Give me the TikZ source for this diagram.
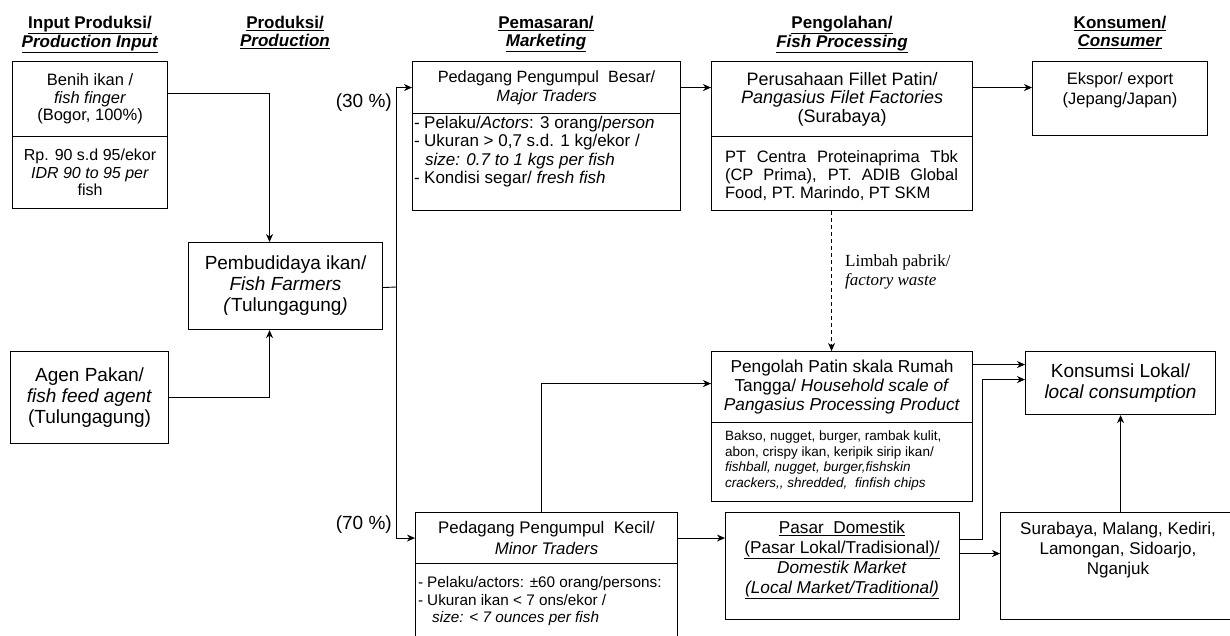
\documentclass[tikz,border=0pt]{standalone}
\usepackage{fontspec}
\setmainfont{Liberation Sans}
\newfontfamily\seriffam{Liberation Serif}
\usetikzlibrary{arrows.meta,calc}
\begin{document}
\begin{tikzpicture}[x=1pt,y=-1pt,
  box/.style={draw, line width=1.1pt, inner sep=1pt, align=center, anchor=north west,
    font=\fontsize{16.5}{18}\selectfont},
  txt/.style={inner sep=0pt, align=center, font=\fontsize{16.5}{18}\selectfont},
  lst/.style={inner sep=0pt, align=left, anchor=north west},
  small/.style={inner sep=0pt, align=left, anchor=north west, font=\fontsize{13.5}{15.5}\selectfont},
  hdr/.style={inner sep=0pt, align=center, anchor=north, font=\bfseries\fontsize{17}{17.8}\selectfont},
  arr/.style={line width=0.9pt, -{Stealth[length=8pt,width=7pt,inset=2.5pt]}},
  ln/.style={line width=0.9pt}
]
\useasboundingbox (0,0) rectangle (1230,635);
\clip (0,0) rectangle (1230,635);

% headers
\node[hdr] (h1) at (90,16) {\underline{Input Produksi/}\\\underline{\textit{Production Input}}};
\node[hdr] (h2) at (285,16) {\underline{Produksi/}\\\underline{\textit{Production}}};
\node[hdr] (h3) at (546,16) {\underline{Pemasaran/}\\\underline{\textit{Marketing}}};
\node[hdr] (h4) at (842,16) {\underline{Pengolahan/}\\\underline{\textit{Fish Processing}}};
\node[hdr] (h5) at (1120,16) {\underline{Konsumen/}\\\underline{\textit{Consumer}}};

% input column
\node[box, minimum width=155pt, minimum height=75pt, font=\fontsize{16.5}{17.5}\selectfont] (benih) at (12,61)
  {Benih ikan /\\\textit{fish finger}\\(Bogor, 100\%)};
\node[box, minimum width=155pt, minimum height=72pt, font=\fontsize{16}{17.5}\selectfont] (benihL) at (12,136)
  {Rp. 90 s.d 95/ekor\\\textit{IDR 90 to 95 per}\\fish};
\node[box, minimum width=158pt, minimum height=92pt, font=\fontsize{19}{21}\selectfont] (agen) at (10,351)
  {Agen Pakan/\\\textit{fish feed agent}\\(Tulungagung)};

% production
\node[box, minimum width=194pt, minimum height=87pt, font=\fontsize{19}{21}\selectfont] (farm) at (188,242)
  {Pembudidaya ikan/\\\textit{Fish Farmers}\\\textit{(}Tulungagung\textit{)}};

% marketing
\node[box, minimum width=268pt, minimum height=52pt, font=\fontsize{16.3}{19}\selectfont] (major) at (412,61)
  {Pedagang Pengumpul\ \ Besar/\\\textit{Major Traders}};
\node[box, minimum width=268pt, minimum height=97pt] (majorL) at (412,113) {};
\node[lst, font=\fontsize{17}{18.4}\selectfont] (majorT) at (414,116)
  {\makebox[10pt][l]{-}Pelaku/\textit{Actors}: 3 orang/\textit{person}\\
   \makebox[10pt][l]{-}Ukuran > 0,7 s.d. 1 kg/ekor /\\
   \hspace*{11pt}\textit{size: 0.7 to 1 kgs per fish}\\
   \makebox[10pt][l]{-}Kondisi segar/ \textit{fresh fish}};

\node[box, minimum width=262pt, minimum height=51pt, font=\fontsize{16.8}{21}\selectfont] (minor) at (415,512)
  {Pedagang Pengumpul\ \ Kecil/\\\textit{Minor Traders}};
\node[box, minimum width=262pt, minimum height=90pt] (minorL) at (415,563) {};
\node[lst, font=\fontsize{15.3}{17.8}\selectfont] (minorT) at (418,576)
  {\makebox[9pt][l]{-}Pelaku/actors: \textpm60 orang/persons:\\
   \makebox[9pt][l]{-}Ukuran ikan < 7 ons/ekor /\\
   \hspace*{14pt}\textit{size: < 7 ounces per fish}};

% processing
\node[box, minimum width=261pt, minimum height=75pt, font=\fontsize{18}{18.5}\selectfont] (filet) at (711,61)
  {Perusahaan Fillet Patin/\\\textit{Pangasius Filet Factories}\\(Surabaya)};
\node[box, minimum width=261pt, minimum height=74pt] (filetL) at (711,136) {};
\node[txt, align=left] (filetT) at (841.5,176)
  {\makebox[233pt][s]{PT Centra Proteinaprima Tbk}\\
   \makebox[233pt][s]{(CP Prima), PT. ADIB Global}\\
   Food, PT. Marindo, PT SKM};

\node[box, minimum width=261pt, minimum height=71pt, font=\fontsize{17.3}{19}\selectfont] (house) at (711,351)
  {Pengolah Patin skala Rumah\\Tangga/ \textit{Household scale of}\\\textit{Pangasius Processing Product}};
\node[box, minimum width=261pt, minimum height=79pt] (houseL) at (711,422) {};
\node[small] (houseT) at (725,431)
  {Bakso, nugget, burger, rambak kulit,\\
   abon, crispy ikan, keripik sirip ikan/\\
   \textit{fishball, nugget, burger,fishskin}\\
   \textit{crackers,{}, shredded,\ \ finfish chips}};

\node[box, minimum width=234pt, minimum height=107pt] (pasar) at (725,512) {};
\node[txt, anchor=north, font=\fontsize{17.2}{20}\selectfont] (pasarT) at (842,521)
  {\underline{Pasar\ \ Domestik}\\\underline{(Pasar Lokal/Tradisional)/}\\\textit{Domestik Market}\\\underline{\textit{(Local Market/Traditional)}}};

% consumer
\node[box, minimum width=175pt, minimum height=74pt] (ekspor) at (1032,61) {};
\node[txt, anchor=north, font=\fontsize{16.5}{20}\selectfont] (eksporT) at (1120,72) {Ekspor/ export\\(Jepang/Japan)};

\node[box, minimum width=190pt, minimum height=63pt, font=\fontsize{19}{21}\selectfont] (lokal) at (1025,351)
  {Konsumsi Lokal/\\\textit{local consumption}};

\node[box, minimum width=240pt, minimum height=107pt] (kota) at (1000,512) {};
\node[txt, anchor=north, font=\fontsize{17}{20}\selectfont] (kotaT) at (1118,522) {Surabaya, Malang, Kediri,\\Lamongan, Sidoarjo,\\Nganjuk};

% labels
\node[txt, anchor=east, font=\fontsize{19}{21}\selectfont] (p30) at (392,103) {(30 \%)};
\node[txt, anchor=east, font=\fontsize{19}{21}\selectfont] (p70) at (392,525) {(70 \%)};
\node[inner sep=0pt, align=left, anchor=west, font=\seriffam\fontsize{17}{18.5}\selectfont] (waste) at (845,272)
  {Limbah pabrik/\\\textit{factory waste}};

% connectors
\draw[arr] ([yshift=5.5pt]benih.east) -| ([xshift=-16pt]farm.north);
\draw[arr] (agen.east) -| ([xshift=-16pt]farm.south);
\coordinate (split) at (396,287);
\draw[ln] ([yshift=-1.5pt]farm.east) -- (split);
\draw[arr] (split) |- (major.west);
\draw[arr] (split) |- (minor.west);
\draw[arr] (major.east) -- (major.east -| filet.west);
\draw[arr] (major.east -| filet.east) -- (major.east -| ekspor.west);
\draw[arr, dashed, dash pattern=on 4pt off 3pt] ([xshift=-10.5pt]filetL.south) -- ([xshift=-10.5pt]house.north);
\draw[arr] ([xshift=-5pt]minor.north) |- ([yshift=3.5pt]house.west);
\draw[arr] (minor.east) -- (minor.east -| pasar.west);
\draw[arr] ([yshift=22.5pt]house.east) -- ([yshift=22.5pt]house.east -| lokal.west);
\draw[arr] ([yshift=26.5pt]pasar.east) -- ++(22,0) |- ([yshift=3.5pt]lokal.west);
\draw[arr] ([yshift=12.5pt]pasar.east) -- ([yshift=12.5pt]pasar.east -| kota.west);
\draw[arr] (kota.north -| lokal.south) -- (lokal.south);
\end{tikzpicture}
\end{document}
